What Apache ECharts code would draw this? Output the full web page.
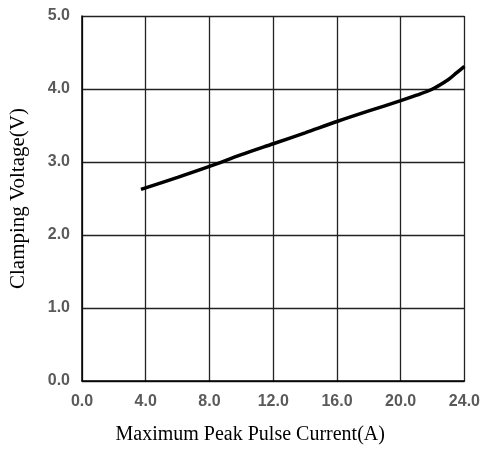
<!DOCTYPE html>
<html><head><meta charset="utf-8">
<script src="https://cdn.jsdelivr.net/npm/echarts@6/dist/echarts.min.js"></script>
<style>html,body{margin:0;padding:0;background:#fff}#c{width:483px;height:450px}</style>
</head><body><div id="c"></div>
<script>
const currentA = [3.7, 6, 8, 10, 12, 14, 16, 18, 20, 21, 22, 23, 23.5, 24];
const voltageV = [2.625, 2.79, 2.94, 3.10, 3.25, 3.40, 3.555, 3.70, 3.84, 3.915, 4.00, 4.13, 4.22, 4.31];
const xTitle = 'Maximum Peak Pulse Current(A)';
const yTitle = 'Clamping Voltage(V)';

const chart = echarts.init(document.getElementById('c'));
const tickLabel = {fontFamily:'Liberation Sans, Arial', fontWeight:'bold', fontSize:16, color:'#5a5a5a'};
chart.setOption({
  animation:false,
  grid:{left:80, right:17, top:16, bottom:66, containLabel:false},
  xAxis:{type:'value', min:0, max:24, interval:4,
    name:xTitle, nameLocation:'middle', nameGap:44,
    nameTextStyle:{fontFamily:'Liberation Serif, Times New Roman', fontSize:20, color:'#000', padding:[0,46,0,0]},
    axisLine:{show:true, lineStyle:{color:'#000', width:1.5}},
    axisTick:{show:false},
    axisLabel:Object.assign({margin:13, formatter:v=>v.toFixed(1)}, tickLabel),
    splitLine:{show:true, lineStyle:{color:'#222', width:1.3}}},
  yAxis:{type:'value', min:0, max:5, interval:1,
    name:yTitle, nameLocation:'middle', nameGap:53, nameRotate:90,
    nameTextStyle:{fontFamily:'Liberation Serif, Times New Roman', fontSize:21, color:'#000'},
    axisLine:{show:true, lineStyle:{color:'#000', width:1.5}},
    axisTick:{show:false},
    axisLabel:Object.assign({margin:12, formatter:v=>v.toFixed(1)}, tickLabel),
    splitLine:{show:true, lineStyle:{color:'#222', width:1.3}}},
  series:[{type:'line', data:currentA.map((x,i)=>[x, voltageV[i]]), smooth:0.3,
    showSymbol:false, lineStyle:{color:'#000', width:3.5}}]
});
</script></body></html>
